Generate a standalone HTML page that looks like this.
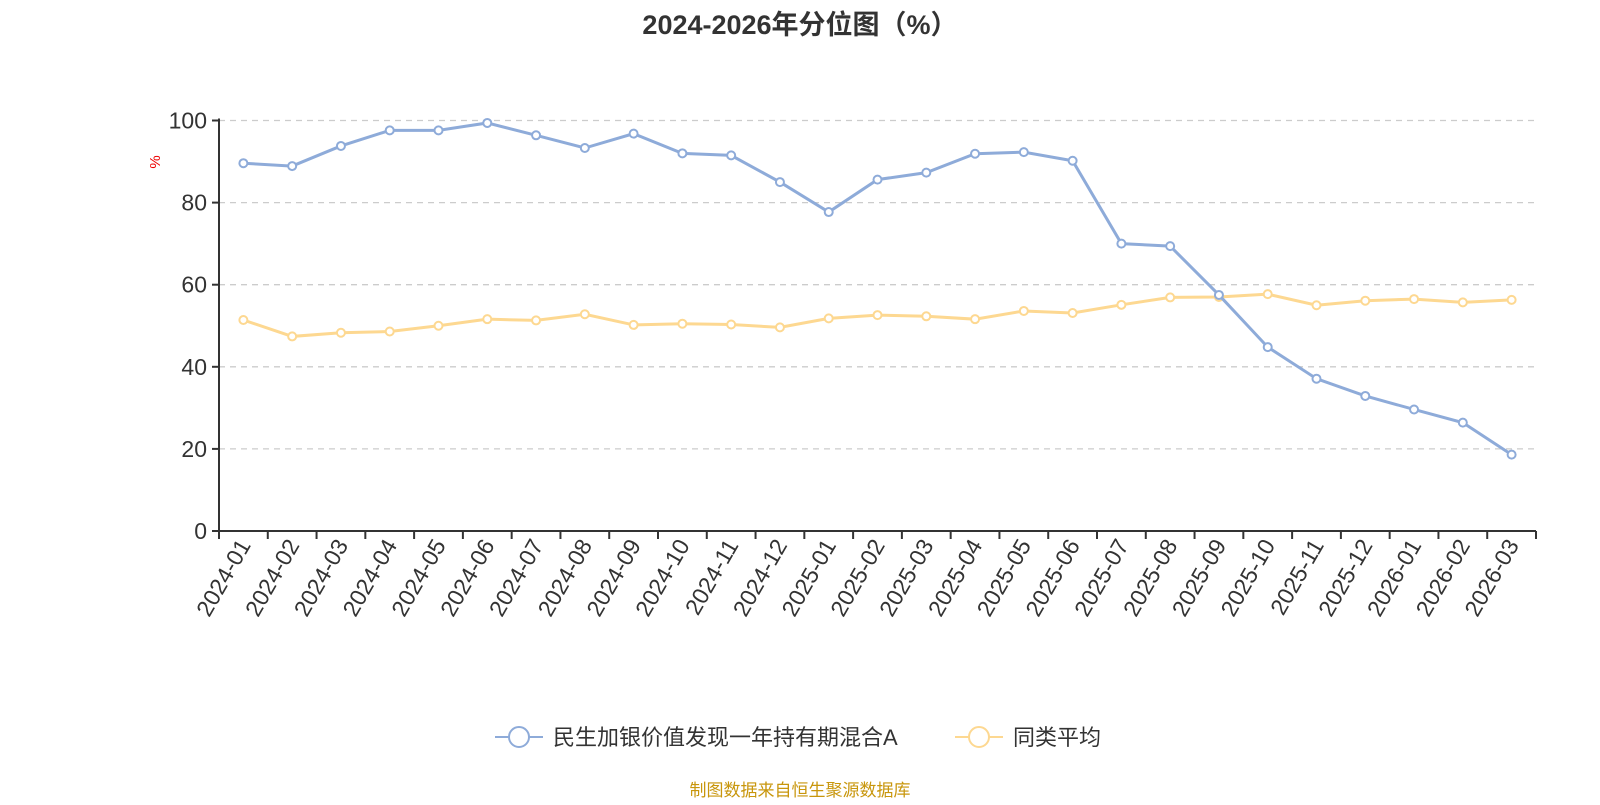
<!DOCTYPE html>
<html><head><meta charset="utf-8"><style>
body{margin:0;background:#fff;}
svg text{font-family:"Liberation Sans","Noto Sans CJK SC",sans-serif;}
</style></head><body>
<svg width="1600" height="800" xmlns="http://www.w3.org/2000/svg" id="c">
<text x="800" y="34" text-anchor="middle" font-size="27" font-weight="bold" fill="#333">2024-2026年分位图（%）</text>
<text x="0" y="0" transform="translate(160,162) rotate(-90)" text-anchor="middle" font-size="15" fill="#e00">%</text>
<g id="grid"></g><g id="axes"></g><g id="series"></g>
<g>
<g>
<line x1="495" y1="737" x2="543" y2="737" stroke="#8eabd9" stroke-width="2"/>
<circle cx="519" cy="737" r="10" fill="#fff" stroke="#8eabd9" stroke-width="2"/>
<text x="553" y="745" font-size="22" fill="#333">民生加银价值发现一年持有期混合A</text></g>
<g>
<line x1="955" y1="737" x2="1003" y2="737" stroke="#fdd891" stroke-width="2"/>
<circle cx="979" cy="737" r="10" fill="#fff" stroke="#fdd891" stroke-width="2"/>
<text x="1013" y="745" font-size="22" fill="#333">同类平均</text></g>
</g>
<text x="800" y="796" text-anchor="middle" font-size="17" fill="#c8960c">制图数据来自恒生聚源数据库</text>
</svg>
<script>
const categories=["2024-01","2024-02","2024-03","2024-04","2024-05","2024-06","2024-07","2024-08","2024-09","2024-10","2024-11","2024-12","2025-01","2025-02","2025-03","2025-04","2025-05","2025-06","2025-07","2025-08","2025-09","2025-10","2025-11","2025-12","2026-01","2026-02","2026-03"];
const fundValues=[89.6,88.9,93.8,97.6,97.6,99.4,96.4,93.3,96.8,92,91.5,85,77.7,85.6,87.3,91.9,92.3,90.2,70,69.4,57.5,44.8,37.1,32.9,29.6,26.4,18.6];
const avgValues=[51.4,47.4,48.3,48.6,50,51.6,51.3,52.8,50.2,50.5,50.3,49.6,51.8,52.6,52.3,51.6,53.6,53.1,55.1,56.9,57,57.7,55,56.1,56.5,55.7,56.3];
const yTicks=[0,20,40,60,80,100];
const NS="http://www.w3.org/2000/svg";
const L=219,R=1536,T=120.5,B=531;
const bw=(R-L)/categories.length;
const xs=i=>L+bw*(i+0.5);
const ys=v=>B-(v/100)*(B-T);
function mk(tag,at,parent){const e=document.createElementNS(NS,tag);for(const k in at)e.setAttribute(k,at[k]);parent.appendChild(e);return e;}
const grid=document.getElementById('grid'),axes=document.getElementById('axes'),ser=document.getElementById('series');
yTicks.forEach(t=>{const y=ys(t);
 if(t>0){const g=mk('line',{x1:L,x2:R,y1:y,y2:y,stroke:'#ccc','stroke-dasharray':'6,5','stroke-width':1.3},grid);
 
 }
 const tx=mk('text',{x:L-12,y:y+8,'text-anchor':'end','font-size':23,fill:'#333'},axes);tx.textContent=t;
 
 
 mk('line',{x1:L-7,x2:L,y1:y,y2:y,stroke:'#333','stroke-width':2},axes);
});
const ya=mk('line',{x1:L,x2:L,y1:T-2,y2:B,stroke:'#333','stroke-width':2},axes);


const xa=mk('line',{x1:L-7,x2:R,y1:B,y2:B,stroke:'#333','stroke-width':2},axes);


for(let i=0;i<=categories.length;i++){const x=L+bw*i;mk('line',{x1:x,x2:x,y1:B,y2:B+8,stroke:'#333','stroke-width':2},axes);}
categories.forEach((c,i)=>{const x=xs(i);
 const t=mk('text',{transform:`translate(${x+8},${B+14}) rotate(-60)`,'text-anchor':'end','font-size':23,fill:'#333'},axes);t.textContent=c;
 
 
});
function series(vals,color,name){
 const g=mk('g',{},ser);
 
 
 mk('polyline',{points:vals.map((v,i)=>xs(i)+','+ys(v)).join(' '),fill:'none',stroke:color,'stroke-width':3},g);
 vals.forEach((v,i)=>{const p=mk('circle',{cx:xs(i),cy:ys(v),r:4,fill:'#fff',stroke:color,'stroke-width':2},g);
  
  });
}
series(avgValues,'#fdd891','average-series');
series(fundValues,'#8eabd9','fund-series');
</script>
</body></html>
